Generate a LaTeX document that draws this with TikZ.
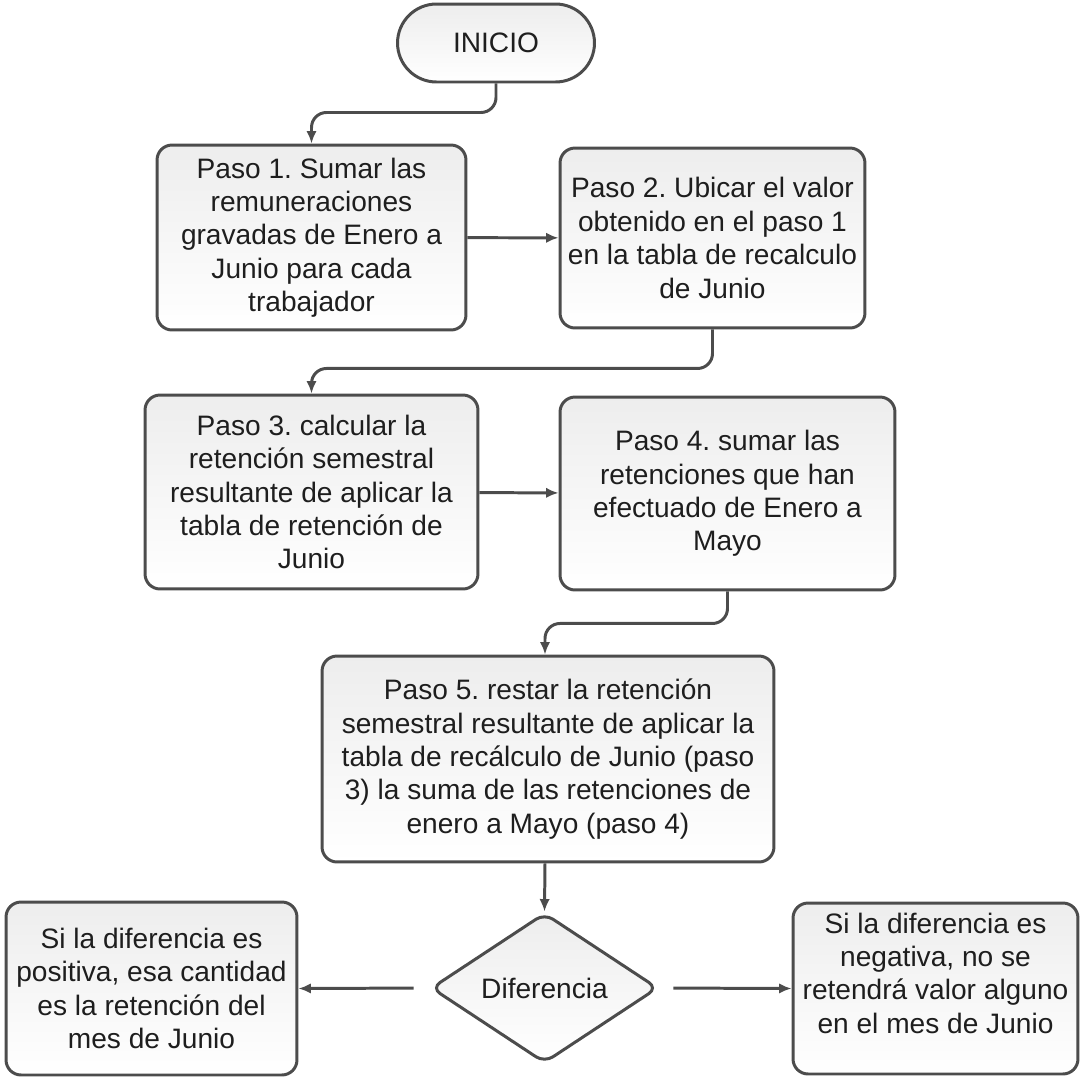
\documentclass[tikz,border=0pt]{standalone}
\usepackage{fontspec}
\setmainfont{Liberation Sans}
\usepackage{tikz}
\usetikzlibrary{shapes.geometric, arrows.meta, positioning, calc}
\definecolor{edge}{HTML}{4C4C4C}
\definecolor{ink}{HTML}{1E1E1E}
\tikzstyle{arr} = [-{Latex[length=0.25cm,width=0.21cm]}, line width=1.7pt, draw=edge, rounded corners=0.3cm]
\frenchspacing

\begin{document}
\begin{tikzpicture}[
  x=0.02cm, y=-0.02cm,
  block/.style={rectangle, rounded corners=0.3cm, draw=edge, line width=1.7pt,
                top color=black!7, bottom color=white, text=ink,
                font=\fontsize{16}{19}\selectfont, align=center, inner sep=2pt},
  choice/.style={block, diamond, aspect=1.5, rounded corners=0.2cm}
]
  \useasboundingbox (0,0) rectangle (1080,1080);

  \node[block, minimum width=3.94cm, minimum height=1.56cm, rounded corners=0.78cm] (inicio) at (496,43) {INICIO};

  \node[block, minimum width=6.18cm, minimum height=3.70cm] (paso1) at (311.5,237.5)
    {Paso 1. Sumar las\\remuneraciones\\gravadas de Enero a\\Junio para cada\\trabajador};
  \node[block, minimum width=6.10cm, minimum height=3.60cm] (paso2) at (712.5,238)
    {Paso 2. Ubicar el valor\\obtenido en el paso 1\\en la tabla de recalculo\\de Junio};
  \node[block, minimum width=6.66cm, minimum height=3.88cm] (paso3) at (311.5,492)
    {Paso 3. calcular la\\retención semestral\\resultante de aplicar la\\tabla de retención de\\Junio};
  \node[block, minimum width=6.70cm, minimum height=3.86cm] (paso4) at (727.5,493.5)
    {Paso 4. sumar las\\retenciones que han\\efectuado de Enero a\\Mayo};
  \node[block, minimum width=9.04cm, minimum height=4.12cm] (paso5) at (548,759)
    {Paso 5. restar la retención\\semestral resultante de aplicar la\\tabla de recálculo de Junio (paso\\3) la suma de las retenciones de\\enero a Mayo (paso 4)};

  \node[choice, minimum width=4.54cm, minimum height=3.00cm, inner sep=0pt] (dif) at (544.5,988) {Diferencia};

  \node[block, minimum width=5.82cm, minimum height=3.46cm] (pos) at (151.5,988.5)
    {Si la diferencia es\\positiva, esa cantidad\\es la retención del\\mes de Junio};
  \node[block, minimum width=5.70cm, minimum height=3.42cm] (neg) at (935.5,988.5)
    {Si la diferencia es\\negativa, no se\\retendrá valor alguno\\en el mes de Junio\\[-7pt] \strut};

  % connectors
  \draw[arr] (inicio.south) -- ++(0,29) -| (paso1.north);
  \draw[arr] (paso1) -- (paso2);
  \draw[arr] (paso2.south) -- ++(0,39) -| (paso3.north);
  \draw[arr] (paso3) -- (paso4);
  \draw[arr] (paso4.south) -- ++(0,32) -| ($(paso5.north)+(-3,0)$);
  \draw[arr] ($(paso5.south)+(-3,0)$) -- (dif.north);
  \draw[arr, shorten <=0.32cm] (dif.west) -- (pos.east);
  \draw[arr, shorten <=0.28cm] (dif.east) -- (neg.west);
\end{tikzpicture}
\end{document}
